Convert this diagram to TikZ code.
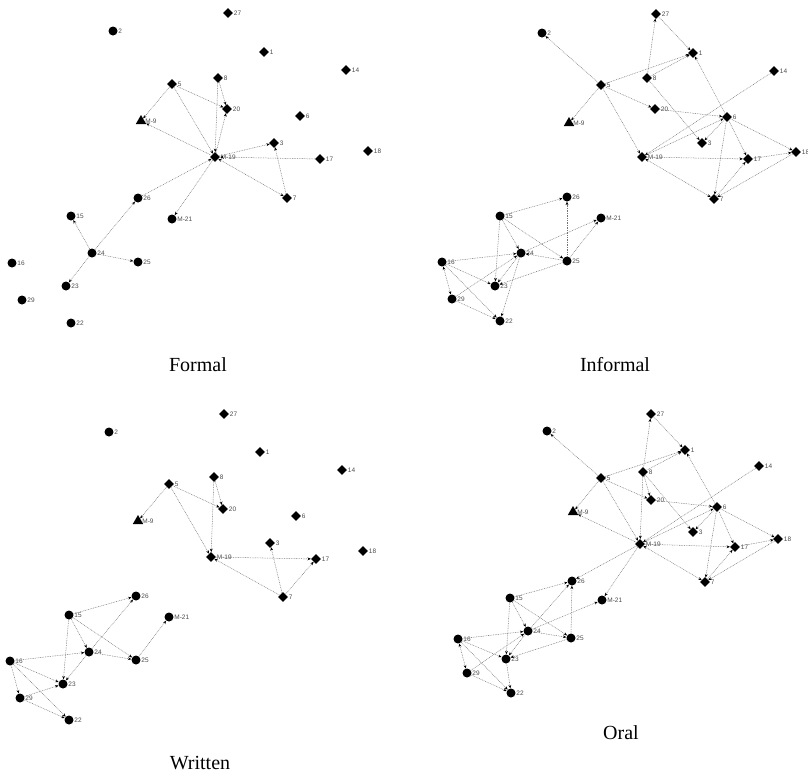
\documentclass[tikz,border=0pt]{standalone}
\usepackage{fontspec}
\setmainfont{Liberation Serif}
\newfontfamily\lblfam{Liberation Sans}
\usetikzlibrary{shapes.geometric,arrows.meta}
\tikzset{
  dia/.style={diamond, fill=black, inner sep=0pt, minimum size=10pt, label={[lbl]0:#1}},
  cir/.style={circle, fill=black, inner sep=0pt, minimum size=9pt, label={[lbl]0:#1}},
  tri/.style={regular polygon, regular polygon sides=3, fill=black, inner sep=0pt, minimum size=12pt, label={[lbl]0:#1}},
  lbl/.style={font={\lblfam\fontsize{6.5}{7}\selectfont}, text=black!70, inner sep=0.5pt},
  ed/.style={draw=black!55, dash pattern=on 0.8pt off 0.9pt, line width=0.5pt, -{Stealth[length=3.4pt,width=2.8pt,black]}},
  bed/.style={draw=black!55, dash pattern=on 0.8pt off 0.9pt, line width=0.5pt, {Stealth[length=3.4pt,width=2.8pt,black]}-{Stealth[length=3.4pt,width=2.8pt,black]}},
  ttl/.style={font=\fontsize{20}{22}\selectfont}
}
\begin{document}
\begin{tikzpicture}[x=1pt,y=-1pt]
\useasboundingbox (0,0) rectangle (808,777);
% ---------------- Formal ----------------
\node[dia=27] (F27) at (228,13) {};
\node[cir=2] (F2) at (113,31) {};
\node[dia=1] (F1) at (264,52) {};
\node[dia=14] (F14) at (346,70) {};
\node[dia=5] (F5) at (172,84) {};
\node[dia=8] (F8) at (218,78) {};
\node[dia=20] (F20) at (227,109) {};
\node[tri=M-9] (FM9) at (141,121) {};
\node[dia=6] (F6) at (300,116) {};
\node[dia=3] (F3) at (274,143) {};
\node[dia=M-19] (FM19) at (215,157) {};
\node[dia=17] (F17) at (320,159) {};
\node[dia=18] (F18) at (368,151) {};
\node[dia=7] (F7) at (287,198) {};
\node[cir=26] (F26) at (138,198) {};
\node[cir=15] (F15) at (71,216) {};
\node[cir=M-21] (FM21) at (172,219) {};
\node[cir=24] (F24) at (92,253) {};
\node[cir=25] (F25) at (138,262) {};
\node[cir=16] (F16) at (12,263) {};
\node[cir=23] (F23) at (66,286) {};
\node[cir=29] (F29) at (22,300) {};
\node[cir=22] (F22) at (71,323) {};
\draw[ed] (F5) -- (FM9);
\draw[ed] (FM19) -- (FM9);
\draw[ed] (F5) -- (FM19);
\draw[ed] (F5) -- (F20);
\draw[ed] (F8) -- (F20);
\draw[ed] (FM19) -- (F20);
\draw[ed] (F8) -- (FM19);
\draw[ed] (FM19) -- (F3);
\draw[ed] (F17) -- (FM19);
\draw[ed] (F7) -- (F3);
\draw[bed] (FM19) -- (F7);
\draw[ed] (F26) -- (FM19);
\draw[ed] (FM19) -- (FM21);
\draw[ed] (F24) -- (F26);
\draw[ed] (F24) -- (F25);
\draw[ed] (F24) -- (F15);
\draw[ed] (F24) -- (F23);
\node[ttl] (tF) at (198,365) {Formal};
% ---------------- Informal ----------------
\node[dia=27] (I27) at (656,14) {};
\node[cir=2] (I2) at (542,33) {};
\node[dia=1] (I1) at (693,53) {};
\node[dia=14] (I14) at (774,71) {};
\node[dia=8] (I8) at (647,78) {};
\node[dia=5] (I5) at (601,85) {};
\node[dia=20] (I20) at (655,109) {};
\node[tri=M-9] (IM9) at (569,123) {};
\node[dia=6] (I6) at (727,117) {};
\node[dia=3] (I3) at (702,143) {};
\node[dia=M-19] (IM19) at (642,157) {};
\node[dia=17] (I17) at (748,159) {};
\node[dia=18] (I18) at (796,152) {};
\node[dia=7] (I7) at (714,199) {};
\node[cir=26] (I26) at (567,197) {};
\node[cir=15] (I15) at (500,216) {};
\node[cir=M-21] (IM21) at (601,218) {};
\node[cir=24] (I24) at (521,253) {};
\node[cir=25] (I25) at (567,261) {};
\node[cir=16] (I16) at (442,262) {};
\node[cir=23] (I23) at (495,286) {};
\node[cir=29] (I29) at (452,299) {};
\node[cir=22] (I22) at (500,321) {};
\draw[ed] (I5) -- (I2);
\draw[ed] (I5) -- (IM9);
\draw[ed] (I5) -- (I1);
\draw[ed] (I8) -- (I1);
\draw[ed] (I8) -- (I27);
\draw[ed] (I27) -- (I1);
\draw[ed] (I6) -- (I1);
\draw[ed] (I5) -- (I20);
\draw[ed] (I5) -- (IM19);
\draw[ed] (I8) -- (I3);
\draw[ed] (I20) -- (I6);
\draw[ed] (IM19) -- (I6);
\draw[ed] (I14) -- (IM19);
\draw[ed] (I6) -- (I3);
\draw[ed] (I6) -- (I17);
\draw[ed] (I6) -- (I18);
\draw[ed] (I6) -- (I7);
\draw[ed] (IM19) -- (I17);
\draw[ed] (I17) -- (I18);
\draw[bed] (IM19) -- (I7);
\draw[ed] (I7) -- (I17);
\draw[ed] (I18) -- (I7);
\draw[ed] (I15) -- (I26);
\draw[ed] (I25) -- (I26);
\draw[ed] (I24) -- (IM21);
\draw[ed] (I25) -- (IM21);
\draw[ed] (I15) -- (I24);
\draw[ed] (I15) -- (I25);
\draw[ed] (I15) -- (I23);
\draw[ed] (I16) -- (I24);
\draw[ed] (I16) -- (I23);
\draw[ed] (I16) -- (I22);
\draw[bed] (I16) -- (I29);
\draw[ed] (I29) -- (I22);
\draw[ed] (I25) -- (I23);
\draw[ed] (I24) -- (I22);
\draw[ed] (I29) -- (I24);
\draw[ed] (I24) -- (I23);
\draw[ed] (I25) -- (I24);
\node[ttl] (tI) at (615,365) {Informal};
% ---------------- Written ----------------
\node[dia=27] (W27) at (224,414) {};
\node[cir=2] (W2) at (109,432) {};
\node[dia=1] (W1) at (260,452) {};
\node[dia=14] (W14) at (342,470) {};
\node[dia=8] (W8) at (214,477) {};
\node[dia=5] (W5) at (169,484) {};
\node[dia=20] (W20) at (223,509) {};
\node[tri=M-9] (WM9) at (138,521) {};
\node[dia=6] (W6) at (296,516) {};
\node[dia=3] (W3) at (270,543) {};
\node[dia=M-19] (WM19) at (211,557) {};
\node[dia=17] (W17) at (316,559) {};
\node[dia=18] (W18) at (363,551) {};
\node[dia=7] (W7) at (283,597) {};
\node[cir=26] (W26) at (136,596) {};
\node[cir=15] (W15) at (69,615) {};
\node[cir=M-21] (WM21) at (169,617) {};
\node[cir=24] (W24) at (89,652) {};
\node[cir=25] (W25) at (136,660) {};
\node[cir=16] (W16) at (10,661) {};
\node[cir=23] (W23) at (63,684) {};
\node[cir=29] (W29) at (20,698) {};
\node[cir=22] (W22) at (69,720) {};
\draw[ed] (W5) -- (WM9);
\draw[ed] (W5) -- (W20);
\draw[ed] (W5) -- (WM19);
\draw[ed] (W8) -- (W20);
\draw[ed] (W8) -- (WM19);
\draw[ed] (WM19) -- (W17);
\draw[ed] (W7) -- (WM19);
\draw[ed] (W7) -- (W3);
\draw[ed] (W7) -- (W17);
\draw[ed] (W15) -- (W26);
\draw[ed] (W24) -- (W26);
\draw[ed] (W15) -- (W24);
\draw[ed] (W15) -- (W25);
\draw[ed] (W15) -- (W23);
\draw[ed] (W16) -- (W24);
\draw[ed] (W24) -- (W25);
\draw[ed] (W25) -- (WM21);
\draw[ed] (W16) -- (W23);
\draw[ed] (W16) -- (W29);
\draw[ed] (W16) -- (W22);
\draw[ed] (W29) -- (W23);
\draw[ed] (W29) -- (W22);
\draw[ed] (W24) -- (W23);
\node[ttl] (tW) at (200,763) {Written};
% ---------------- Oral ----------------
\node[dia=27] (O27) at (651,414) {};
\node[cir=2] (O2) at (547,431) {};
\node[dia=1] (O1) at (685,450) {};
\node[dia=14] (O14) at (759,466) {};
\node[dia=8] (O8) at (643,472) {};
\node[dia=5] (O5) at (601,478) {};
\node[dia=20] (O20) at (651,500) {};
\node[tri=M-9] (OM9) at (573,512) {};
\node[dia=6] (O6) at (717,507) {};
\node[dia=3] (O3) at (693,532) {};
\node[dia=M-19] (OM19) at (640,544) {};
\node[dia=17] (O17) at (735,547) {};
\node[dia=18] (O18) at (778,539) {};
\node[dia=7] (O7) at (705,582) {};
\node[cir=26] (O26) at (572,581) {};
\node[cir=15] (O15) at (510,598) {};
\node[cir=M-21] (OM21) at (602,600) {};
\node[cir=24] (O24) at (528,631) {};
\node[cir=25] (O25) at (571,638) {};
\node[cir=16] (O16) at (458,639) {};
\node[cir=23] (O23) at (506,659) {};
\node[cir=29] (O29) at (467,673) {};
\node[cir=22] (O22) at (511,693) {};
\draw[ed] (O5) -- (O2);
\draw[ed] (O5) -- (OM9);
\draw[ed] (OM19) -- (OM9);
\draw[ed] (O5) -- (O1);
\draw[ed] (O8) -- (O1);
\draw[ed] (O8) -- (O27);
\draw[ed] (O27) -- (O1);
\draw[ed] (O6) -- (O1);
\draw[ed] (O5) -- (O20);
\draw[ed] (O8) -- (O20);
\draw[ed] (O5) -- (OM19);
\draw[ed] (O8) -- (OM19);
\draw[ed] (O20) -- (O6);
\draw[ed] (O8) -- (O3);
\draw[ed] (OM19) -- (O6);
\draw[ed] (O14) -- (OM19);
\draw[ed] (O6) -- (O3);
\draw[ed] (O6) -- (O17);
\draw[ed] (O6) -- (O18);
\draw[ed] (O6) -- (O7);
\draw[ed] (OM19) -- (O17);
\draw[ed] (O17) -- (O18);
\draw[bed] (OM19) -- (O7);
\draw[ed] (O7) -- (O17);
\draw[ed] (O18) -- (O7);
\draw[ed] (OM19) -- (O26);
\draw[ed] (OM19) -- (OM21);
\draw[ed] (O15) -- (O26);
\draw[ed] (O25) -- (O26);
\draw[ed] (O24) -- (O26);
\draw[ed] (O24) -- (OM21);
\draw[ed] (O15) -- (O24);
\draw[ed] (O15) -- (O25);
\draw[ed] (O15) -- (O23);
\draw[ed] (O16) -- (O24);
\draw[ed] (O16) -- (O23);
\draw[ed] (O16) -- (O22);
\draw[bed] (O16) -- (O29);
\draw[ed] (O29) -- (O22);
\draw[ed] (O25) -- (O23);
\draw[ed] (O24) -- (O23);
\draw[ed] (O29) -- (O24);
\draw[ed] (O24) -- (O25);
\draw[ed] (O23) -- (O22);
\node[ttl] (tO) at (621,733) {Oral};
\end{tikzpicture}
\end{document}
